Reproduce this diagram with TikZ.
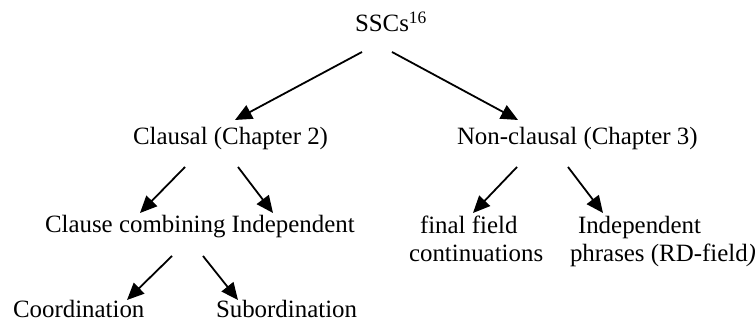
\documentclass[tikz,border=0pt]{standalone}
\usepackage{fontspec}
\setmainfont{Liberation Serif}
\usetikzlibrary{arrows.meta,calc}
\begin{document}
\begin{tikzpicture}[x=0.5pt,y=-0.5pt,
  label/.style={inner sep=0pt,outer sep=0pt,anchor=base west,
    font=\fontsize{12.45}{14.2}\selectfont},
  twoline/.style={label,align=left},
  arr/.style={line width=0.9pt,-{Triangle[length=8.5pt,width=7.5pt]}}]
\useasboundingbox (0,0) rectangle (755,324);

% tree labels
\node[label] (sscs) at (355,32) {SSCs\textsuperscript{16}};
\node[label] (clausal) at (133,145) {Clausal (Chapter 2)};
\node[label] (nonclausal) at (457,145) {Non-clausal (Chapter 3)};
\node[label] (combining) at (45,233) {Clause combining};
\node[label] (independent) at (231.7,233) {Independent};
\node[label] (coordination) at (13,318) {Coordination};
\node[label] (subordination) at (216,318) {Subordination};
% two-line labels: base anchor sits on the second line
\node[twoline] (finalfield) at (409,261.7) {\hspace*{5.5pt}final field\\continuations};
\node[twoline] (phrases) at (570,261.7) {\hspace*{4pt}Independent\\phrases (RD-field\textit{)}};

% branches
\draw[arr] ($(sscs.base west)+(7,20)$) -- ($(clausal.base west)+(102,-25)$);
\draw[arr] ($(sscs.base west)+(37,20)$) -- ($(nonclausal.base west)+(61,-25)$);
\draw[arr] ($(clausal.base west)+(52,22)$) -- ($(combining.base west)+(95,-20)$);
\draw[arr] ($(clausal.base west)+(105,22)$) -- ($(independent.base west)+(41.3,-20)$);
\draw[arr] ($(combining.base west)+(127,23)$) -- ($(coordination.base west)+(114,-18)$);
\draw[arr] ($(combining.base west)+(158,23)$) -- ($(subordination.base west)+(22,-18)$);
\draw[arr] ($(nonclausal.base west)+(60,22)$) -- ($(finalfield.base west)+(64,-48.7)$);
\draw[arr] ($(nonclausal.base west)+(111,22)$) -- ($(phrases.base west)+(33,-48.7)$);
\end{tikzpicture}
\end{document}
